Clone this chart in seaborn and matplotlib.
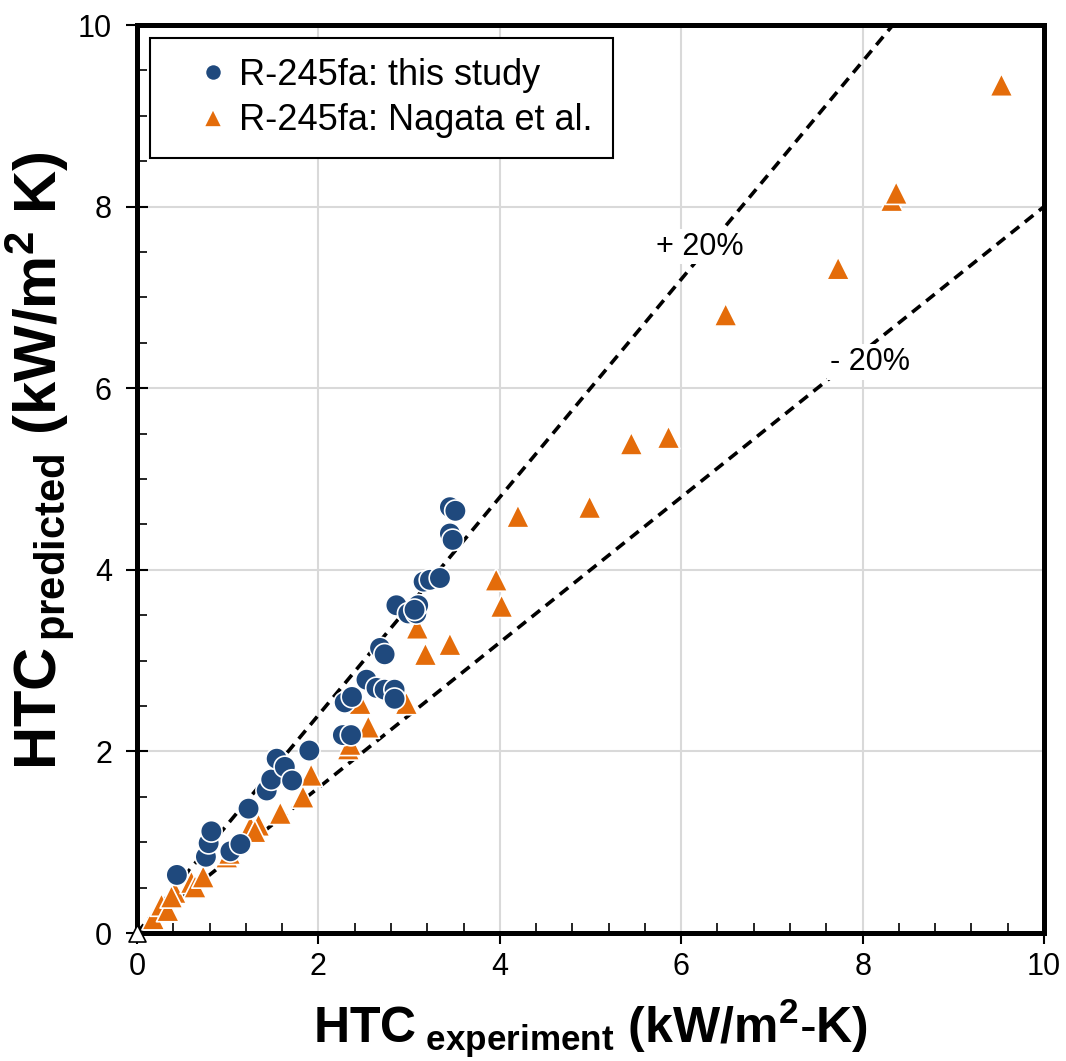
import numpy as np
import pandas as pd
import seaborn as sns
import matplotlib.pyplot as plt
from matplotlib.ticker import MultipleLocator

# R-245fa: this study  (HTC experiment, HTC predicted) in kW/m2-K
study_exp = [0.44, 0.76, 0.79, 0.82, 1.03, 1.14, 1.23, 1.43, 1.48, 1.54, 1.63, 1.71,
             1.90, 2.27, 2.36, 2.29, 2.37, 2.53, 2.64, 2.73, 2.84, 2.84, 2.68, 2.73,
             2.86, 2.99, 3.08, 3.10, 3.06, 3.16, 3.23, 3.34, 3.45, 3.48, 3.45, 3.51]
study_pred = [0.64, 0.84, 0.99, 1.12, 0.90, 0.98, 1.37, 1.57, 1.69, 1.92, 1.83, 1.68,
              2.01, 2.18, 2.18, 2.54, 2.60, 2.79, 2.70, 2.68, 2.68, 2.58, 3.14, 3.07,
              3.61, 3.52, 3.52, 3.61, 3.56, 3.87, 3.89, 3.91, 4.40, 4.33, 4.69, 4.65]

# R-245fa: Nagata et al.
nagata_exp = [0.18, 0.27, 0.34, 0.42, 0.38, 0.60, 0.64, 0.73, 0.99, 1.02, 1.25, 1.34,
              1.30, 1.58, 1.83, 1.92, 2.33, 2.35, 2.46, 2.55, 2.97, 3.09, 3.18, 3.45,
              3.96, 4.02, 4.20, 4.99, 5.45, 5.86, 6.49, 7.73, 8.32, 8.37, 9.53]
nagata_pred = [0.16, 0.31, 0.25, 0.45, 0.40, 0.56, 0.51, 0.62, 0.84, 0.88, 1.17, 1.19,
               1.12, 1.32, 1.50, 1.74, 2.03, 2.08, 2.53, 2.27, 2.53, 3.36, 3.07, 3.18,
               3.89, 3.60, 4.59, 4.69, 5.39, 5.46, 6.81, 7.32, 8.07, 8.15, 9.34]

# open marker sitting at the origin
origin_exp = [0.0]
origin_pred = [0.0]

# +/- 20% band
band_x = [0, 10]
plus_y = [0, 12]
minus_y = [0, 8]

lab_study = 'R-245fa: this study'
lab_nagata = 'R-245fa: Nagata et al.'

df = pd.concat([
    pd.DataFrame({'exp': nagata_exp, 'pred': nagata_pred, 'series': lab_nagata}),
    pd.DataFrame({'exp': study_exp, 'pred': study_pred, 'series': lab_study}),
], ignore_index=True)

sns.set_style('white')
plt.rcParams['font.family'] = ['Liberation Sans', 'DejaVu Sans']
plt.rcParams['mathtext.fontset'] = 'custom'
plt.rcParams['mathtext.rm'] = 'Liberation Sans'
plt.rcParams['mathtext.bf'] = 'Liberation Sans:bold'
plt.rcParams['mathtext.it'] = 'Liberation Sans:italic'
plt.rcParams['mathtext.sf'] = 'Liberation Sans'
plt.rcParams['text.color'] = 'black'
plt.rcParams['axes.labelcolor'] = 'black'
plt.rcParams['xtick.color'] = 'black'
plt.rcParams['ytick.color'] = 'black'

fig, ax = plt.subplots(figsize=(10.66, 10.61), dpi=100)
fig.subplots_adjust(left=0.1285, right=0.9794, bottom=0.1206, top=0.9764)

ax.grid(True, which='major', color='#D9D9D9', lw=1.5)
ax.set_axisbelow(True)

ax.plot(band_x, plus_y, color='black', ls=(0, (3, 2)), lw=2.6, zorder=2)
ax.plot(band_x, minus_y, color='black', ls=(0, (3, 2)), lw=2.6, zorder=2)

sns.scatterplot(data=df, x='exp', y='pred', hue='series', style='series', size='series',
                hue_order=[lab_study, lab_nagata], style_order=[lab_study, lab_nagata],
                size_order=[lab_study, lab_nagata],
                palette={lab_study: '#1F497D', lab_nagata: '#E46C0A'},
                markers={lab_study: 'o', lab_nagata: '^'},
                sizes={lab_study: 240, lab_nagata: 270},
                edgecolor='white', linewidth=1.2, ax=ax, zorder=3)

ax.scatter(origin_exp, origin_pred, marker='^', s=150, facecolor='white',
           edgecolor='black', linewidth=1.2, clip_on=False, zorder=5)

box = dict(facecolor='white', edgecolor='none', pad=2)
ax.text(6.21, 7.56, '+ 20%', fontsize=22, ha='center', va='center', bbox=box, zorder=4)
ax.text(8.08, 6.29, '- 20%', fontsize=22, ha='center', va='center', bbox=box, zorder=4)

ax.set_xlim(0, 10)
ax.set_ylim(0, 10)
ax.set_xticks(np.arange(0, 11, 2))
ax.set_yticks(np.arange(0, 11, 2))
ax.xaxis.set_minor_locator(MultipleLocator(0.4))
ax.yaxis.set_minor_locator(MultipleLocator(0.5))
ax.tick_params(axis='x', which='major', direction='out', length=8, width=1.5,
               labelsize=22, pad=6, bottom=True)
ax.tick_params(axis='y', which='major', direction='inout', length=16, width=1.5,
               labelsize=22, pad=10, left=True)
ax.tick_params(which='minor', direction='in', length=7, width=1.2, bottom=True, left=True)

for sp in ax.spines.values():
    sp.set_linewidth(3.6)
    sp.set_color('black')

ax.set_xlabel(r'$\mathbf{HTC}_{\ \mathbf{experiment}}\ \mathbf{(kW/m}^{\mathbf{2}}\mathbf{\text{-}K)}$',
              fontsize=36)
ax.set_ylabel(r'$\mathbf{HTC}_{\,\mathbf{predicted}}\ \mathbf{(kW/m}^{\mathbf{2}}\ \mathbf{K)}$',
              fontsize=43)
ax.xaxis.set_label_coords(0.5, -0.07)
ax.yaxis.set_label_coords(-0.066, 0.52)

sns.move_legend(ax, 'upper left', bbox_to_anchor=(0.014, 0.986), title=None,
                frameon=True, fancybox=False, framealpha=1, fontsize=26,
                markerscale=0.75, borderpad=0.55, handlelength=2.4,
                handletextpad=-0.47, labelspacing=0.3, borderaxespad=0)
leg = ax.get_legend()
leg.get_frame().set_edgecolor('black')
leg.get_frame().set_linewidth(1.5)

fig.savefig('out.png', dpi=100)
